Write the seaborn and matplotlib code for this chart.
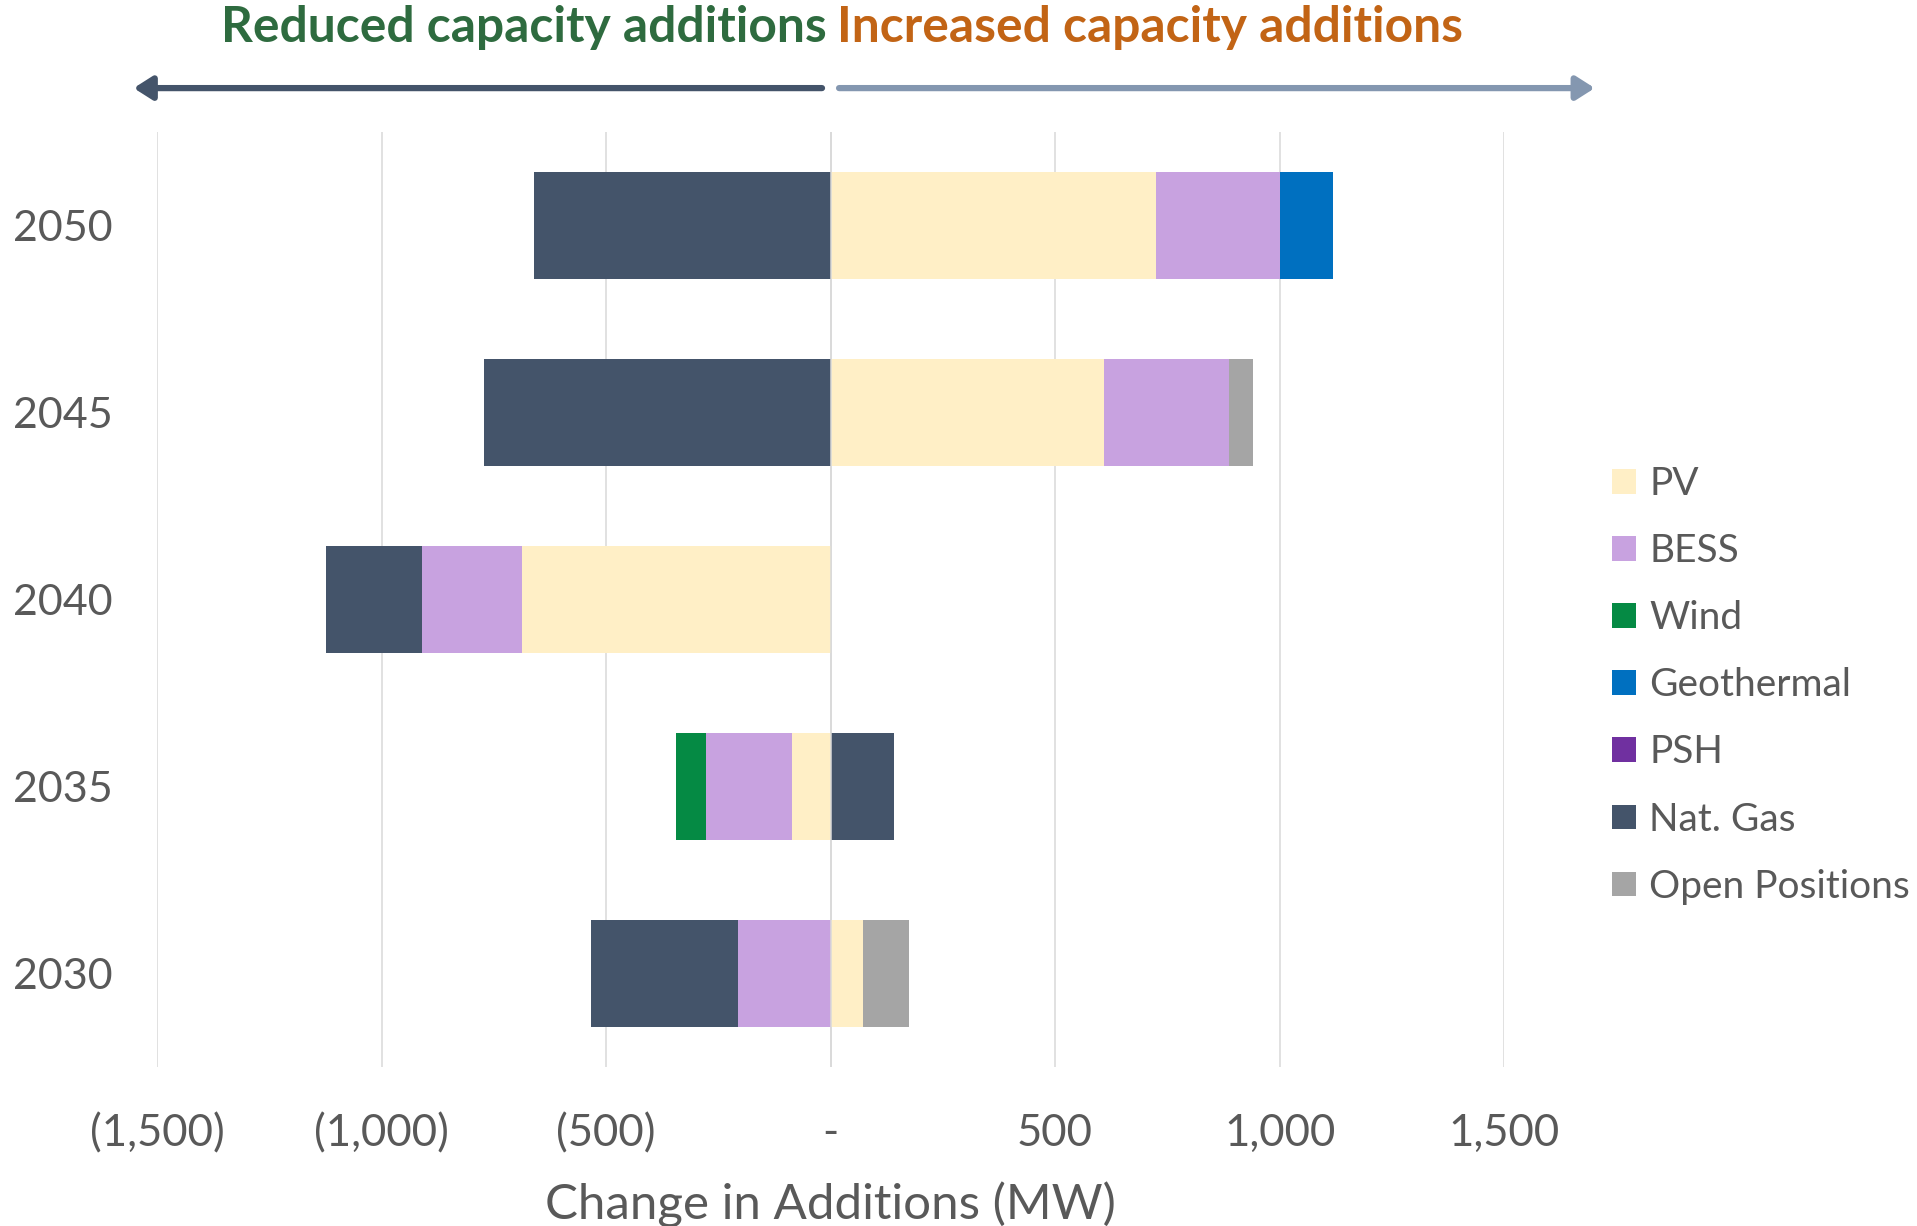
import numpy as np
import pandas as pd
import matplotlib
matplotlib.use("Agg")
import matplotlib.pyplot as plt
from matplotlib.patches import Patch
import seaborn as sns

# data (MW change in additions), top row first
years = ["2050", "2045", "2040", "2035", "2030"]
pv = [725, 610, -687, -86, 73]
bess = [277, 277, -222, -191, -206]
wind = [0, 0, 0, -67, 0]
geothermal = [116, 0, 0, 0, 0]
psh = [0, 0, 0, 0, 0]
nat_gas = [-660, -772, -214, 141, -328]
open_pos = [0, 53, 0, 0, 102]

tech_names = ["PV", "BESS", "Wind", "Geothermal", "PSH", "Nat. Gas", "Open Positions"]
tech_colors = ["#FFEFC6", "#C8A2E0", "#058A44", "#0070C0", "#7030A0", "#44546A", "#A5A5A5"]
xticks = [-1500, -1000, -500, 0, 500, 1000, 1500]
xtick_labels = ["(1,500)", "(1,000)", "(500)", "-", "500", "1,000", "1,500"]

sns.set_theme(style="white")
plt.rcParams["font.family"] = ["Lato", "DejaVu Sans"]
txt = "#595959"

fig = plt.figure(figsize=(19.17, 12.26), dpi=100)
ax = fig.add_axes([0.0819, 0.1297, 0.7027, 0.7626])

# stack positives and negatives outward from zero (Excel style)
layers = [pv, bess, wind, geothermal, psh, nat_gas, open_pos]
pos = np.zeros(len(years))
neg = np.zeros(len(years))
cums = []
for name, col, vals in zip(tech_names, tech_colors, layers):
    v = np.array(vals, dtype=float)
    pos = pos + np.clip(v, 0, None)
    neg = neg + np.clip(v, None, 0)
    cums.append((name, col, pos.copy(), neg.copy()))

for name, col, p, n in reversed(cums):
    for side in (p, n):
        df = pd.DataFrame({"year": years, "mw": side})
        sns.barplot(data=df, x="mw", y="year", order=years, orient="h",
                    color=col, saturation=1, width=0.57, errorbar=None,
                    linewidth=0, ax=ax, zorder=2)

ax.set_xlim(-1500, 1500)
ax.set_ylim(4.5, -0.5)
for x in xticks:
    ax.axvline(x, color="#D9D9D9", lw=1.1, zorder=0)
ax.axvline(0, color="#D9D9D9", lw=1.1, zorder=3)
for s in ax.spines.values():
    s.set_visible(False)

ax.set_xticks(xticks)
ax.set_xticklabels(xtick_labels)
ax.tick_params(axis="x", length=0, pad=33, labelsize=31.5, labelcolor=txt)
ax.tick_params(axis="y", length=0, pad=32, labelsize=31, labelcolor=txt)
ax.set_ylabel("")
ax.set_xlabel("Change in Additions (MW)", fontsize=35.5, color=txt, labelpad=20)

# header labels and arrows
ax.text(-8, 1.112, "Reduced capacity additions", transform=ax.get_xaxis_transform(),
        ha="right", va="center", fontsize=35.8, fontweight="bold", color="#2E6B3F")
ax.text(14, 1.112, "Increased capacity additions", transform=ax.get_xaxis_transform(),
        ha="left", va="center", fontsize=35.8, fontweight="bold", color="#C26415")
ax.annotate("", xy=(-1552, 1.047), xytext=(-19, 1.047), xycoords=ax.get_xaxis_transform(),
            arrowprops=dict(arrowstyle="-|>,head_length=0.55,head_width=0.35",
                            lw=4.5, color="#44546A", mutation_scale=20,
                            shrinkA=0, shrinkB=0), annotation_clip=False)
ax.annotate("", xy=(1702, 1.047), xytext=(19, 1.047), xycoords=ax.get_xaxis_transform(),
            arrowprops=dict(arrowstyle="-|>,head_length=0.55,head_width=0.35",
                            lw=4.5, color="#8497B0", mutation_scale=20,
                            shrinkA=0, shrinkB=0), annotation_clip=False)

handles = [Patch(facecolor=c, edgecolor="none", label=n) for n, c in zip(tech_names, tech_colors)]
fig.legend(handles=handles, loc="center left", bbox_to_anchor=(0.841, 0.441),
           frameon=False, fontsize=28, labelcolor=txt, handlelength=0.6,
           handleheight=0.6, handletextpad=0.35, labelspacing=0.8,
           borderpad=0, borderaxespad=0)

fig.savefig("out.png", dpi=100)
